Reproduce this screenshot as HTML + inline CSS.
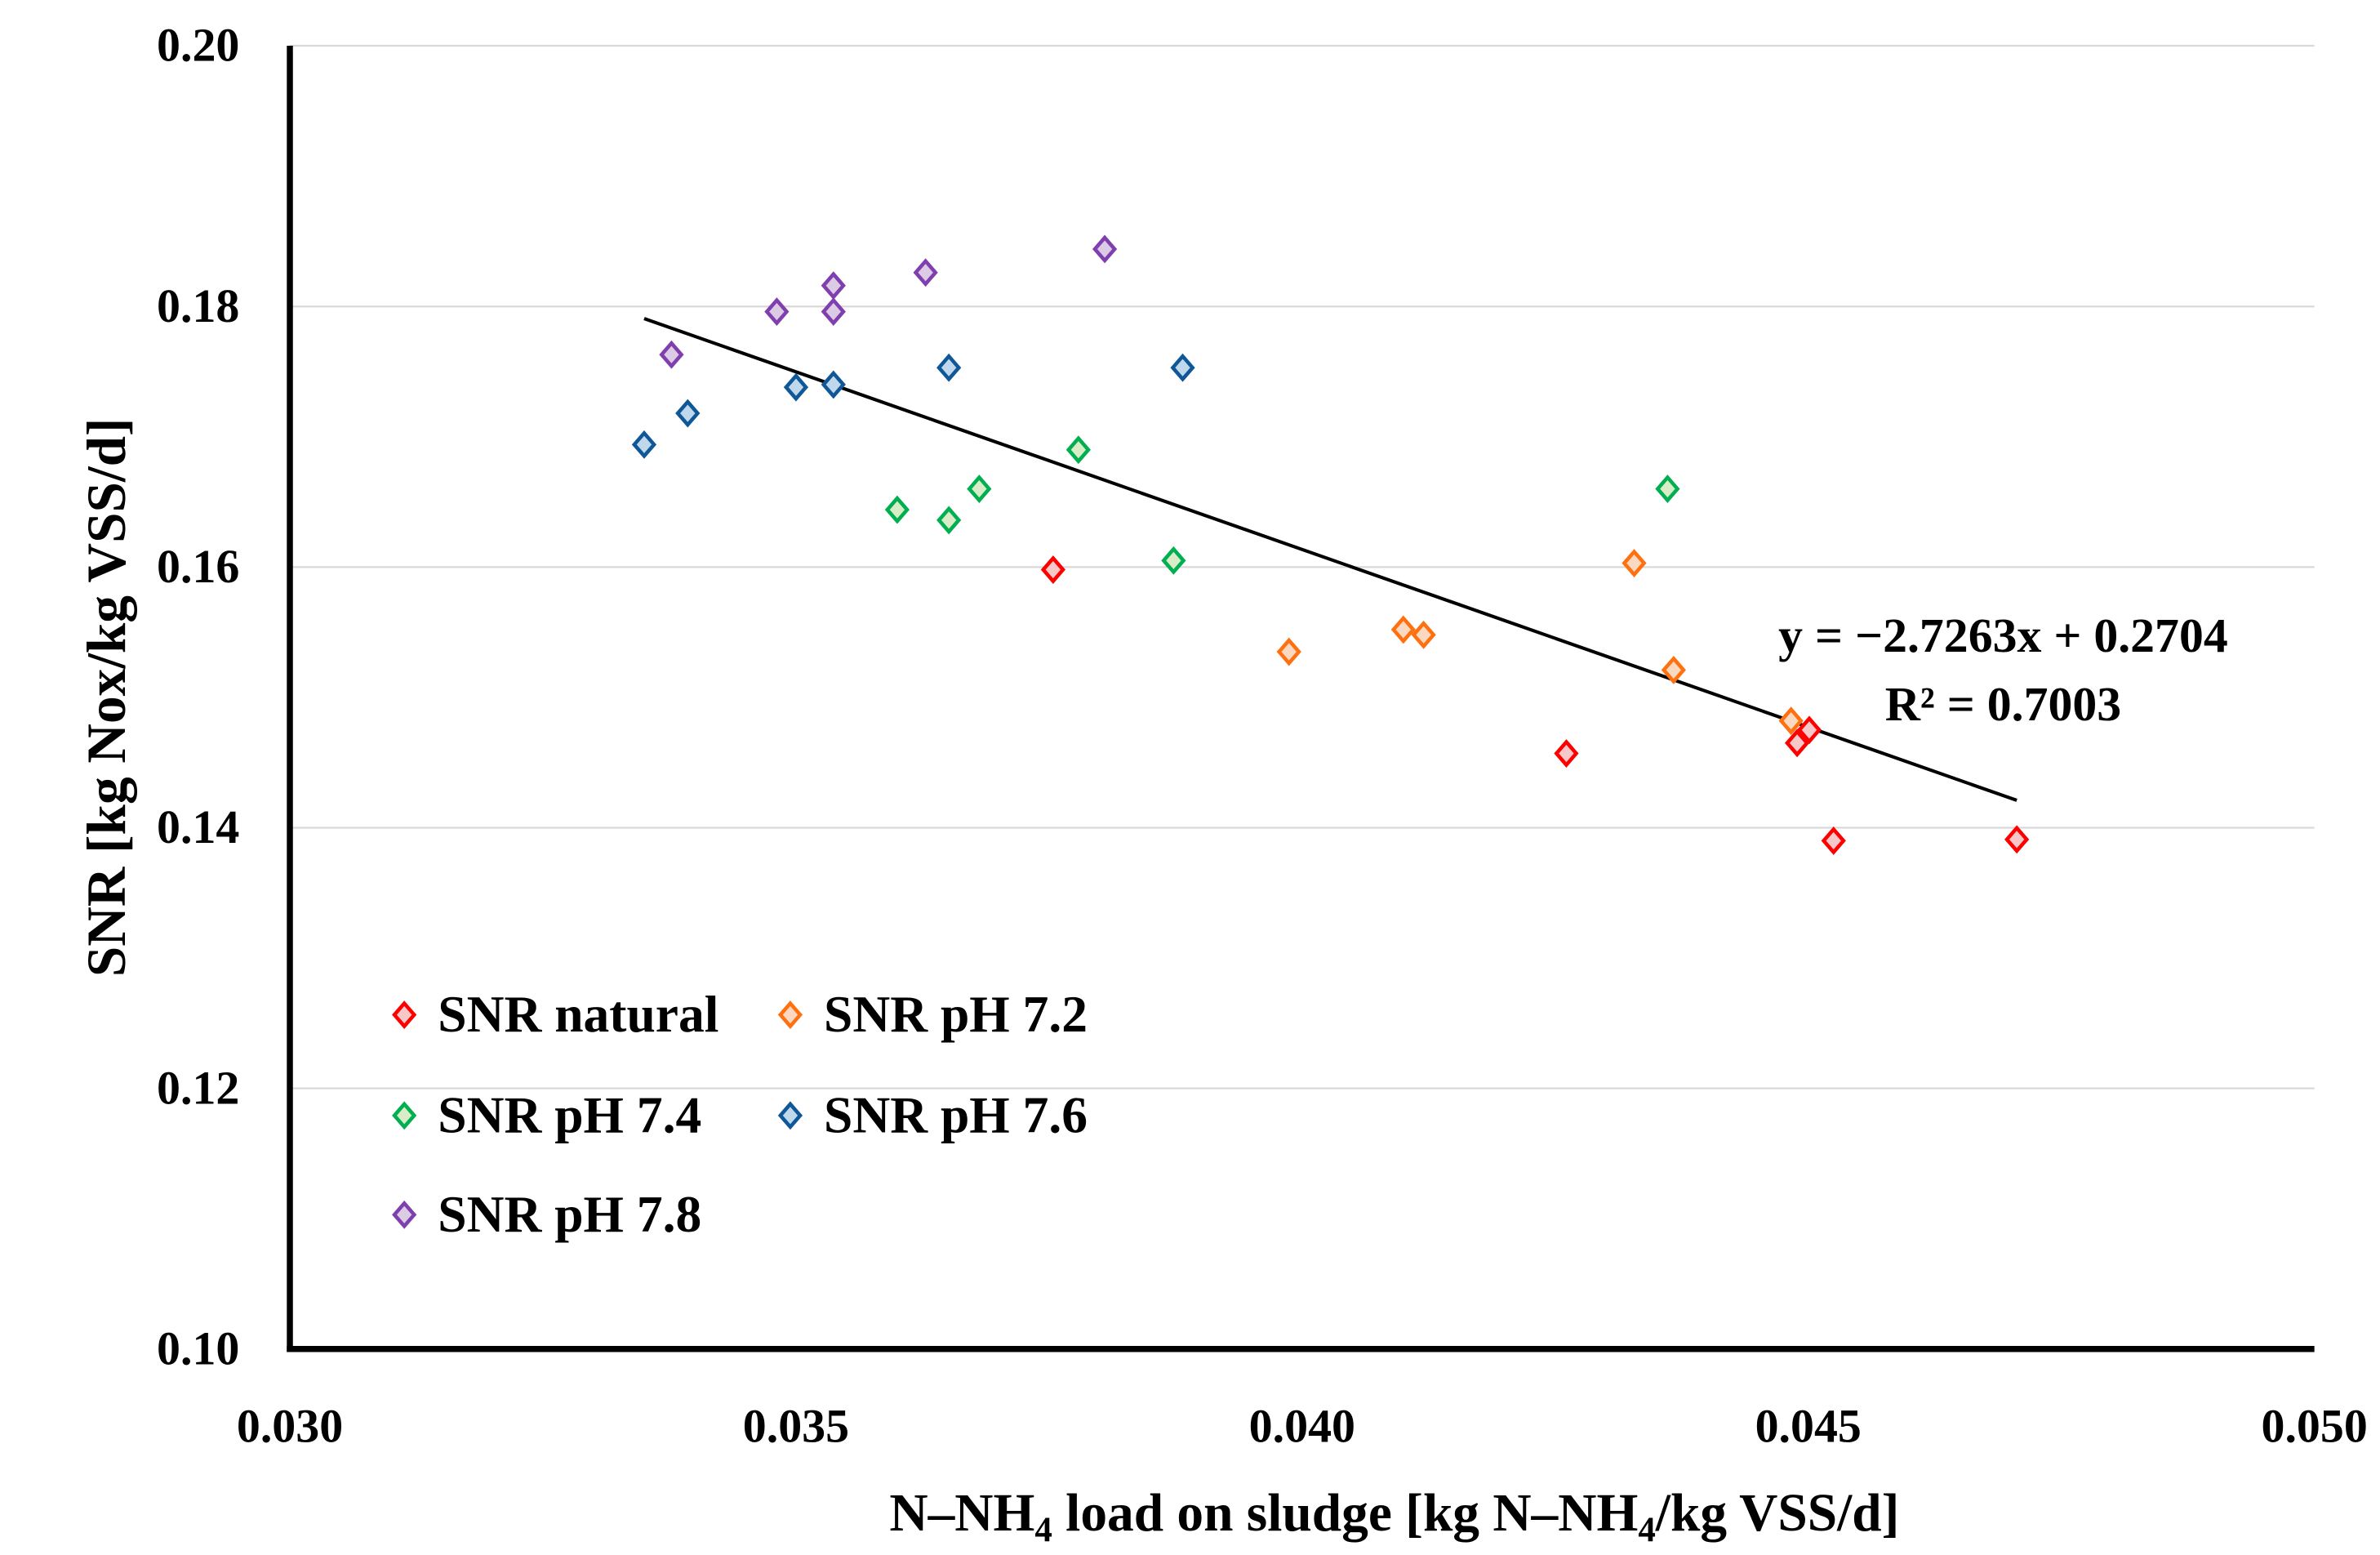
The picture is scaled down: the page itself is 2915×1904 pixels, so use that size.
<!DOCTYPE html>
<html><head><meta charset="utf-8"><style>
html,body{margin:0;padding:0;background:#fff;}
svg{display:block;}
text{font-family:"Liberation Serif",serif;font-weight:bold;fill:#000;}
</style></head><body>
<svg id="chart" width="2915" height="1904" viewBox="0 0 1560 1019" preserveAspectRatio="none" xmlns="http://www.w3.org/2000/svg">
<g id="grid"></g>
<g id="trend"></g>
<g id="pts"></g>
<g id="axes"></g>
<g id="legend"></g>
<text transform="translate(82,457) rotate(-90)" text-anchor="middle" font-size="36">SNR [kg Nox/kg VSS/d]</text>
<text x="914" y="1003" text-anchor="middle" font-size="35">N–NH<tspan font-size="23" dy="7">4</tspan><tspan dy="-7"> load on sludge [kg N–NH</tspan><tspan font-size="23" dy="7">4</tspan><tspan dy="-7">/kg VSS/d]</tspan></text>
<text x="1313" y="427" text-anchor="middle" font-size="32">y = −2.7263x + 0.2704</text>
<text x="1313" y="472" text-anchor="middle" font-size="32">R² = 0.7003</text>
</svg>
<script>
const xTicks=[0.030,0.035,0.040,0.045,0.050];
const yTicks=[0.10,0.12,0.14,0.16,0.18,0.20];
const xTickLabels=["0.030","0.035","0.040","0.045","0.050"];
const yTickLabels=["0.10","0.12","0.14","0.16","0.18","0.20"];
const seriesNames=["SNR natural","SNR pH 7.2","SNR pH 7.4","SNR pH 7.6","SNR pH 7.8"];
const seriesColors=["#ff0000","#ff7010","#00b050","#0f5796","#7f3fae"];
const seriesFills=["#f8c8c8","#fbd8c0","#d8ecc8","#c0d8ec","#dccbe4"];
const xNatural=[0.03754,0.04261,0.04489,0.04501,0.04525,0.04706];
const yNatural=[0.1598,0.1457,0.1465,0.1475,0.1390,0.1391];
const x72=[0.03987,0.04100,0.04120,0.04328,0.04367,0.04483];
const y72=[0.1535,0.1552,0.1548,0.1603,0.1521,0.1482];
const x74=[0.03600,0.03651,0.03681,0.03779,0.03873,0.04361];
const y74=[0.1644,0.1636,0.1660,0.1690,0.1605,0.1660];
const x76=[0.03350,0.03393,0.03500,0.03537,0.03651,0.03882];
const y76=[0.1694,0.1718,0.1738,0.1740,0.1753,0.1753];
const x78=[0.03377,0.03481,0.03537,0.03537,0.03628,0.03805];
const y78=[0.1763,0.1796,0.1816,0.1796,0.1826,0.1844];
const trendSlope=-2.7263, trendIntercept=0.2704;
const trendRange=[0.03350,0.04706];

const NS="http://www.w3.org/2000/svg";
const X0=190,X1=1517,Y0=884,Y1=30;
const xMin=0.030,xMax=0.050,yMin=0.10,yMax=0.20;
function sx(v){return X0+(v-xMin)/(xMax-xMin)*(X1-X0);}
function sy(v){return Y0-(v-yMin)/(yMax-yMin)*(Y0-Y1);}
function mk(tag,attrs,parent){const e=document.createElementNS(NS,tag);for(const k in attrs)e.setAttribute(k,attrs[k]);parent.appendChild(e);return e;}
const grid=document.getElementById('grid'),axes=document.getElementById('axes'),pts=document.getElementById('pts'),trend=document.getElementById('trend'),legend=document.getElementById('legend');
yTicks.forEach((v,i)=>{
  if(i>0){const g=mk('line',{x1:X0,x2:X1,y1:sy(v),y2:sy(v),stroke:'#d9d9d9','stroke-width':1.2},grid);
  
  }
  const t=mk('text',{x:157,y:sy(v)+10,'text-anchor':'end','font-size':31},axes);t.textContent=yTickLabels[i];
  
  
});
xTicks.forEach((v,i)=>{
  const t=mk('text',{x:sx(v),y:945,'text-anchor':'middle','font-size':31},axes);t.textContent=xTickLabels[i];
  
  
});
const ya=mk('line',{x1:X0,x2:X0,y1:Y1,y2:Y0+2,stroke:'#000','stroke-width':4},axes);


const xa=mk('line',{x1:X0-2,x2:X1,y1:Y0,y2:Y0,stroke:'#000','stroke-width':4},axes);


const tl=mk('line',{x1:sx(trendRange[0]),y1:sy(trendSlope*trendRange[0]+trendIntercept),x2:sx(trendRange[1]),y2:sy(trendSlope*trendRange[1]+trendIntercept),stroke:'#000','stroke-width':2.2},trend);


function diamond(cx,cy,i,parent){
  const w=6.5,h=7.5;
  return mk('polygon',{points:`${cx},${cy-h} ${cx+w},${cy} ${cx},${cy+h} ${cx-w},${cy}`,fill:seriesFills[i],stroke:seriesColors[i],'stroke-width':2.4},parent);
}
const xs=[xNatural,x72,x74,x76,x78],ys=[yNatural,y72,y74,y76,y78];
xs.forEach((arr,i)=>{arr.forEach((xv,j)=>{
  const d=diamond(sx(xv),sy(ys[i][j]),i,pts);
  
  
});});
const legPos=[[265,665],[518,665],[265,731],[518,731],[265,796]];
seriesNames.forEach((n,i)=>{
  const g=mk('g',{},legend);
  
  
  diamond(legPos[i][0],legPos[i][1],i,g);
  const t=mk('text',{x:legPos[i][0]+22,y:legPos[i][1]+11,'font-size':34},g);t.textContent=n;
});
</script>
</body></html>
